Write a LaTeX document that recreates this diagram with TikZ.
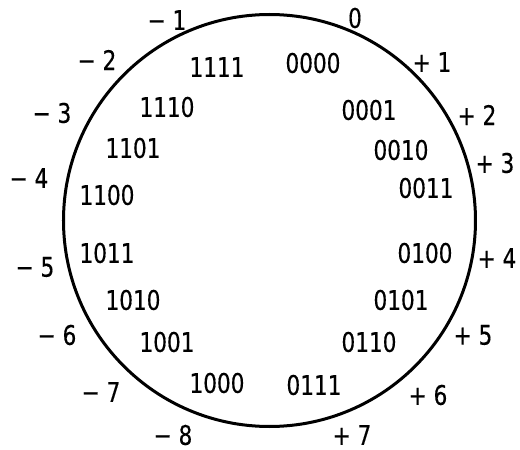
\documentclass[tikz,border=0pt]{standalone}
\usepackage{fontspec}
\setmainfont{DejaVu Sans}[FakeStretch=0.8,FakeBold=0.4]

\begin{document}
\begin{tikzpicture}[x=1pt,y=1pt, font=\fontsize{27}{30}\selectfont, line join=round, line cap=round,
	code/.style={inner sep=0pt},
	value/.style={inner sep=0pt}]
	\useasboundingbox (-269.5,-229.5) rectangle (250.5,220.5);
	\coordinate (O) at (0,0);
	\draw[line width=3pt] (O) circle (206);
	% bit patterns inside the circle
	\foreach \n/\x/\y/\t in {a/-52.5/153.5/1111, b/43.5/157.5/0000, c/99.5/110.5/0001, d/131.5/70.5/0010,
		e/156.5/32.5/0011, f/155.5/-32.5/0100, g/131.5/-79.5/0101, h/99.5/-121.5/0110,
		i/44.5/-164.5/0111, j/-52.5/-162.5/1000, k/-102.5/-121.5/1001, l/-136.5/-79.5/1010,
		m/-162.5/-32.5/1011, n/-162.5/25.5/1100, o/-136.5/72.5/1101, p/-102.5/113.5/1110}
		\node[code] (bits-\n) at (\x,\y) {\t};
	% signed values outside the circle
	\node[value] (p0) at (85.5,202.5) {0};
	\foreach \n/\x/\y in {1/162.5/158.5, 2/207.5/105.5, 3/225.5/57.5, 4/227.5/-37.5,
		5/203.5/-114.5, 6/158.5/-174.5, 7/82.5/-214.5}
		\node[value] (p\n) at (\x,\y) {+ \n};
	\foreach \n/\x/\y in {8/-96.5/-214.5, 7/-168.5/-171.5, 6/-212.5/-114.5, 5/-234.5/-46.5,
		4/-240.5/42.5, 3/-217.5/107.5, 2/-172.5/160.5, 1/-102.5/200.5}
		\node[value] (m\n) at (\x,\y) {− \n};
\end{tikzpicture}
\end{document}
